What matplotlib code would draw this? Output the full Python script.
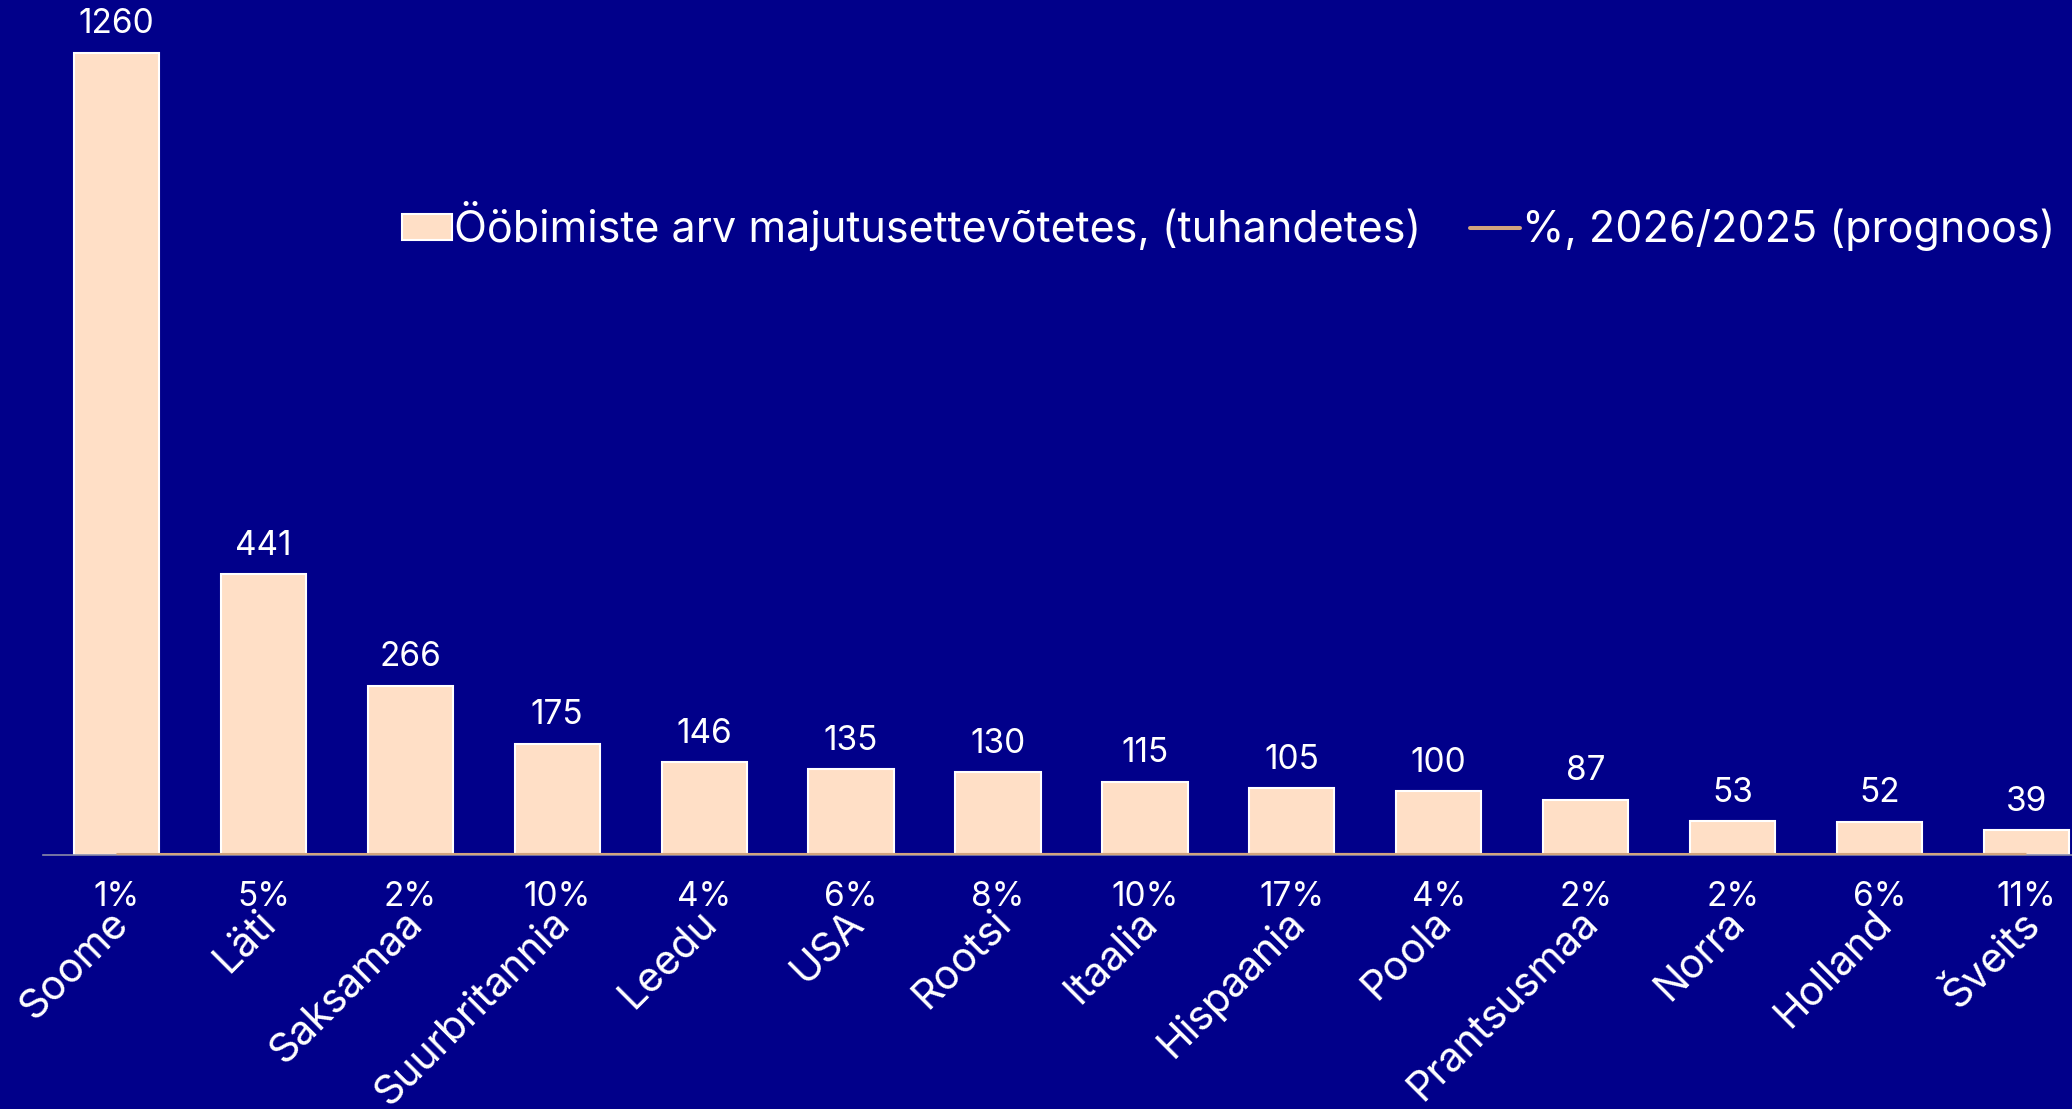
import matplotlib
matplotlib.use("Agg")
import matplotlib.pyplot as plt
from matplotlib.patches import Patch
from matplotlib.lines import Line2D

plt.rcParams['font.family'] = ['Inter', 'DejaVu Sans']

# Data
countries = ["Soome", "Läti", "Saksamaa", "Suurbritannia", "Leedu", "USA", "Rootsi",
             "Itaalia", "Hispaania", "Poola", "Prantsusmaa", "Norra", "Holland", "Šveits"]
nights = [1260, 441, 266, 175, 146, 135, 130, 115, 105, 100, 87, 53, 52, 39]
growth_pct = [1, 5, 2, 10, 4, 6, 8, 10, 17, 4, 2, 2, 6, 11]

bar_label_name = "Ööbimiste arv majutusettevõtetes, (tuhandetes)"
line_label_name = "%, 2026/2025 (prognoos)"

BG = "#01008A"
BAR = "#FFDFC6"
LINE = "#D2A47E"
AXIS = "#8A8AA8"
WHITE = "white"

W, H, DPI = 2072, 1109, 100
fig = plt.figure(figsize=(W / DPI, H / DPI), dpi=DPI, facecolor=BG)

# axes: baseline at y=855 px from top, left edge at x=43 px
base_px = 855
left_px = 43
ax = fig.add_axes([left_px / W, (H - base_px) / H, (W - left_px) / W, base_px / H])
ax.set_facecolor(BG)

x = list(range(len(countries)))
bars = ax.bar(x, nights, width=0.58, color=BAR, edgecolor=WHITE, linewidth=1.5, zorder=2)

# growth line (shares, on the same axis)
growth_share = [p / 100 for p in growth_pct]
ax.plot(x, growth_share, color=LINE, linewidth=2.9, solid_capstyle='butt', zorder=4)

ax.set_xlim(-0.5, 13.31)
ax.set_ylim(0, 1343)

for s in ["top", "right", "left"]:
    ax.spines[s].set_visible(False)
ax.spines["bottom"].set_color(AXIS)
ax.spines["bottom"].set_linewidth(1.2)
ax.spines["bottom"].set_zorder(3)
ax.set_yticks([])
ax.set_xticks(x)
ax.set_xticklabels([])
ax.tick_params(axis='x', length=0)

# values above bars
ax.bar_label(bars, labels=[str(v) for v in nights], padding=9, color=WHITE,
             fontsize=24)

# percentage labels below the line
for xi, yi, p in zip(x, growth_share, growth_pct):
    ax.annotate(f"{p}%", (xi, yi), xytext=(0, -19), textcoords="offset points",
                ha="center", va="top", color=WHITE, fontsize=24)

# rotated category labels
for xi, name in zip(x, countries):
    ax.annotate(name, (xi, 0), xytext=(-5, -35), textcoords="offset points",
                ha="right", va="top", rotation=45, rotation_mode="anchor",
                color=WHITE, fontsize=29.5, annotation_clip=False)

handles = [Patch(facecolor=BAR, edgecolor=WHITE, linewidth=1.5),
           Line2D([0], [0], color=LINE, linewidth=2.9, solid_capstyle='round')]
fig.legend(handles, [bar_label_name, line_label_name], loc="center left",
           bbox_to_anchor=(402 / W, 1 - 226 / H), ncol=2, frameon=False,
           labelcolor=WHITE, handlelength=1.15, handleheight=0.55,
           handletextpad=0.05, columnspacing=1.15, borderpad=0, borderaxespad=0,
           prop={'size': 31})

fig.savefig("out.png", dpi=DPI, facecolor=BG)
